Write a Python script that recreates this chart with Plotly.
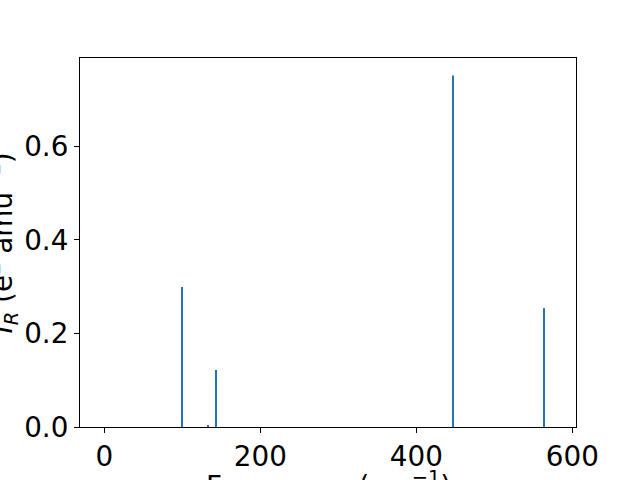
import plotly.graph_objects as go

frequencies = [100.0, 133.0, 143.6, 447.4, 564.2]
intensities = [0.299, 0.003, 0.122, 0.751, 0.254]

x_ticks = [0, 200, 400, 600]
y_ticks = [0.0, 0.2, 0.4, 0.6]

FONT = "DejaVu Sans"
FS = 27.8

fig = go.Figure()
fig.add_trace(go.Bar(
    x=frequencies, y=intensities, width=1.6,
    marker=dict(color="#1f77b4", line=dict(width=0)),
))

fig.update_layout(
    width=640, height=480,
    margin=dict(l=80, r=64, t=58, b=53, pad=0),
    paper_bgcolor="white", plot_bgcolor="white",
    showlegend=False,
    font=dict(family=FONT, size=FS, color="black"),
    xaxis=dict(
        range=[-31.2, 604.7], tickvals=x_ticks, ticktext=[str(v) for v in x_ticks],
        ticks="outside", ticklen=5, tickwidth=1.1, tickcolor="black",
        showline=True, linecolor="black", linewidth=1.1, mirror=True, automargin=False,
        showgrid=False, zeroline=False, tickfont=dict(size=FS, family=FONT),
    ),
    yaxis=dict(
        range=[0, 0.7886], tickvals=y_ticks, ticktext=[f"{v:.1f}" for v in y_ticks],
        ticks="outside", ticklen=5, tickwidth=1.1, tickcolor="black",
        showline=True, linecolor="black", linewidth=1.1, mirror=True, automargin=False,
        showgrid=False, zeroline=False, tickfont=dict(size=FS, family=FONT),
    ),
    annotations=[
        dict(text="<i>I</i><sub><i>R</i></sub> (e<sup>2</sup> amu<sup>−1</sup>)",
             xref="paper", yref="paper", x=-0.110, y=0.5, xanchor="right", yanchor="middle",
             textangle=-90, showarrow=False, font=dict(size=FS, family=FONT)),
        dict(text="Frequency (cm<sup>−1</sup>)",
             xref="paper", yref="paper", x=0.5, y=-0.0995, xanchor="center", yanchor="top",
             showarrow=False, font=dict(size=FS, family=FONT)),
    ],
)

fig.write_html("out.html", config={"displayModeBar": False},
               post_script="document.body.style.margin='0';")
